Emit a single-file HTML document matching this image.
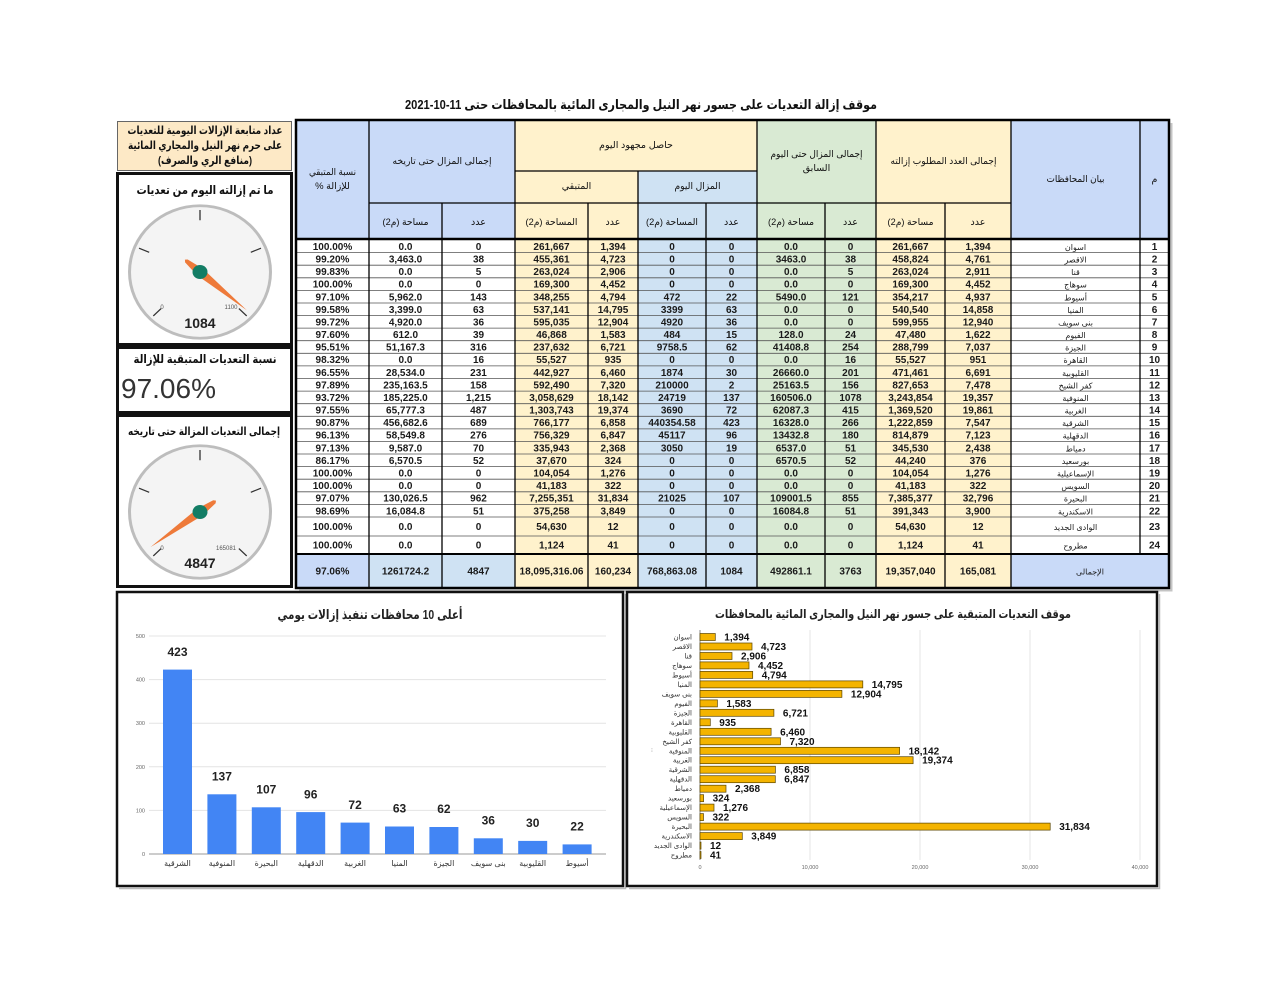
<!DOCTYPE html>
<html><head><meta charset="utf-8">
<style>
html,body{margin:0;padding:0;background:#fff;}
svg{display:block;font-family:"Liberation Sans","DejaVu Sans",sans-serif;}
.n{font-weight:normal;font-size:8px;}
</style></head><body>
<svg width="1280" height="989" viewBox="0 0 1280 989" xmlns="http://www.w3.org/2000/svg">
<rect width="1280" height="989" fill="#fff"/>
<!-- main title -->
<text x="641" y="109" text-anchor="middle" direction="rtl" font-weight="bold" font-size="13" fill="#111" textLength="472" lengthAdjust="spacingAndGlyphs">موقف إزالة التعديات على جسور نهر النيل والمجارى المائية بالمحافظات حتى &#x2066;2021-10-11&#x2069;</text>

<!-- TABLE backgrounds -->
<rect x="296" y="120" width="219" height="118" fill="#c9daf8"/>
<rect x="515" y="120" width="242" height="51" fill="#fff2cc"/>
<rect x="515" y="171" width="123" height="67" fill="#fff2cc"/>
<rect x="638" y="171" width="119" height="67" fill="#cfe2f3"/>
<rect x="757" y="120" width="119" height="118" fill="#d9ead3"/>
<rect x="876" y="120" width="135" height="118" fill="#fff2cc"/>
<rect x="1011" y="120" width="158" height="118" fill="#c9daf8"/>
<rect x="515" y="240" width="123" height="314" fill="#fff2cc"/>
<rect x="638" y="240" width="119" height="314" fill="#cfe2f3"/>
<rect x="757" y="240" width="119" height="314" fill="#d9ead3"/>
<rect x="876" y="240" width="135" height="314" fill="#fff2cc"/>
<rect x="296" y="554" width="73" height="34" fill="#c9daf8"/>
<rect x="369" y="554" width="146" height="34" fill="#cfe2f3"/>
<rect x="515" y="554" width="123" height="34" fill="#fff2cc"/>
<rect x="638" y="554" width="119" height="34" fill="#cfe2f3"/>
<rect x="757" y="554" width="119" height="34" fill="#d9ead3"/>
<rect x="876" y="554" width="135" height="34" fill="#fff2cc"/>
<rect x="1011" y="554" width="158" height="34" fill="#c9daf8"/>

<!-- row lines -->
<path fill="none" stroke="#555" stroke-width="0.8" d="M296 252.6H1169M296 265.2H1169M296 277.8H1169M296 290.4H1169M296 303H1169M296 315.5H1169M296 328.1H1169M296 340.7H1169M296 353.3H1169M296 365.9H1169M296 378.5H1169M296 391.1H1169M296 403.7H1169M296 416.3H1169M296 428.9H1169M296 441.4H1169M296 454H1169M296 466.6H1169M296 479.2H1169M296 491.8H1169M296 504.4H1169M296 517H1169M296 536H1169"/>
<!-- vertical lines -->
<path fill="none" stroke="#000" stroke-width="1.3" d="M369 120V588M442 203V588M515 120V588M588 203V588M638 171V588M706 203V588M757 120V588M825 203V588M876 120V588M945 203V588M1011 120V588M1140 120V554M515 171H757M369 203H1011"/>
<path fill="none" stroke="#000" stroke-width="2.6" d="M296 239H1169"/>
<path fill="none" stroke="#000" stroke-width="2" d="M296 554H1169"/>
<rect x="296" y="120" width="873" height="468" fill="none" stroke="#000" stroke-width="2.5"/>
<path fill="none" stroke="#c4c4c4" stroke-width="2" d="M1171.5 123V590.5H299"/>

<!-- header text -->
<g font-size="9.5" fill="#111" text-anchor="middle" direction="rtl">
<text x="332.5" y="175" textLength="47" lengthAdjust="spacingAndGlyphs">نسبة المتبقي</text>
<text x="332.5" y="189">للإزالة %</text>
<text x="442" y="164" textLength="99" lengthAdjust="spacingAndGlyphs">إجمالى المزال حتى تاريخه</text>
<text x="405.5" y="225" textLength="46" lengthAdjust="spacingAndGlyphs">مساحة (م2)</text>
<text x="478.5" y="225">عدد</text>
<text x="636" y="148" textLength="74" lengthAdjust="spacingAndGlyphs">حاصل مجهود اليوم</text>
<text x="576.5" y="189">المتبقي</text>
<text x="697.5" y="189" textLength="46" lengthAdjust="spacingAndGlyphs">المزال اليوم</text>
<text x="551.5" y="225" textLength="52" lengthAdjust="spacingAndGlyphs">المساحة (م2)</text>
<text x="613" y="225">عدد</text>
<text x="672" y="225" textLength="52" lengthAdjust="spacingAndGlyphs">المساحة (م2)</text>
<text x="731.5" y="225">عدد</text>
<text x="816.5" y="157" textLength="92" lengthAdjust="spacingAndGlyphs">إجمالى المزال حتى اليوم</text>
<text x="816.5" y="171">السابق</text>
<text x="791" y="225" textLength="46" lengthAdjust="spacingAndGlyphs">مساحة (م2)</text>
<text x="850.5" y="225">عدد</text>
<text x="943.5" y="164" textLength="106" lengthAdjust="spacingAndGlyphs">إجمالى العدد المطلوب إزالته</text>
<text x="910.5" y="225" textLength="46" lengthAdjust="spacingAndGlyphs">مساحة (م2)</text>
<text x="978" y="225">عدد</text>
<text x="1075.5" y="182" textLength="58" lengthAdjust="spacingAndGlyphs">بيان المحافظات</text>
<text x="1154.5" y="182">م</text>
</g>

<!-- data rows -->
<g font-size="10" font-weight="bold" fill="#1a1a1a" text-anchor="middle">
<g transform="translate(0,249.9)"><text x="332.5">100.00%</text><text x="405.5">0.0</text><text x="478.5">0</text><text x="551.5">261,667</text><text x="613">1,394</text><text x="672">0</text><text x="731.5">0</text><text x="791">0.0</text><text x="850.5">0</text><text x="910.5">261,667</text><text x="978">1,394</text><text x="1075.5" class="n">اسوان</text><text x="1154.5">1</text></g>
<g transform="translate(0,262.5)"><text x="332.5">99.20%</text><text x="405.5">3,463.0</text><text x="478.5">38</text><text x="551.5">455,361</text><text x="613">4,723</text><text x="672">0</text><text x="731.5">0</text><text x="791">3463.0</text><text x="850.5">38</text><text x="910.5">458,824</text><text x="978">4,761</text><text x="1075.5" class="n">الاقصر</text><text x="1154.5">2</text></g>
<g transform="translate(0,275.1)"><text x="332.5">99.83%</text><text x="405.5">0.0</text><text x="478.5">5</text><text x="551.5">263,024</text><text x="613">2,906</text><text x="672">0</text><text x="731.5">0</text><text x="791">0.0</text><text x="850.5">5</text><text x="910.5">263,024</text><text x="978">2,911</text><text x="1075.5" class="n">قنا</text><text x="1154.5">3</text></g>
<g transform="translate(0,287.7)"><text x="332.5">100.00%</text><text x="405.5">0.0</text><text x="478.5">0</text><text x="551.5">169,300</text><text x="613">4,452</text><text x="672">0</text><text x="731.5">0</text><text x="791">0.0</text><text x="850.5">0</text><text x="910.5">169,300</text><text x="978">4,452</text><text x="1075.5" class="n">سوهاج</text><text x="1154.5">4</text></g>
<g transform="translate(0,300.3)"><text x="332.5">97.10%</text><text x="405.5">5,962.0</text><text x="478.5">143</text><text x="551.5">348,255</text><text x="613">4,794</text><text x="672">472</text><text x="731.5">22</text><text x="791">5490.0</text><text x="850.5">121</text><text x="910.5">354,217</text><text x="978">4,937</text><text x="1075.5" class="n">أسيوط</text><text x="1154.5">5</text></g>
<g transform="translate(0,312.9)"><text x="332.5">99.58%</text><text x="405.5">3,399.0</text><text x="478.5">63</text><text x="551.5">537,141</text><text x="613">14,795</text><text x="672">3399</text><text x="731.5">63</text><text x="791">0.0</text><text x="850.5">0</text><text x="910.5">540,540</text><text x="978">14,858</text><text x="1075.5" class="n">المنيا</text><text x="1154.5">6</text></g>
<g transform="translate(0,325.4)"><text x="332.5">99.72%</text><text x="405.5">4,920.0</text><text x="478.5">36</text><text x="551.5">595,035</text><text x="613">12,904</text><text x="672">4920</text><text x="731.5">36</text><text x="791">0.0</text><text x="850.5">0</text><text x="910.5">599,955</text><text x="978">12,940</text><text x="1075.5" class="n">بنى سويف</text><text x="1154.5">7</text></g>
<g transform="translate(0,338)"><text x="332.5">97.60%</text><text x="405.5">612.0</text><text x="478.5">39</text><text x="551.5">46,868</text><text x="613">1,583</text><text x="672">484</text><text x="731.5">15</text><text x="791">128.0</text><text x="850.5">24</text><text x="910.5">47,480</text><text x="978">1,622</text><text x="1075.5" class="n">الفيوم</text><text x="1154.5">8</text></g>
<g transform="translate(0,350.6)"><text x="332.5">95.51%</text><text x="405.5">51,167.3</text><text x="478.5">316</text><text x="551.5">237,632</text><text x="613">6,721</text><text x="672">9758.5</text><text x="731.5">62</text><text x="791">41408.8</text><text x="850.5">254</text><text x="910.5">288,799</text><text x="978">7,037</text><text x="1075.5" class="n">الجيزة</text><text x="1154.5">9</text></g>
<g transform="translate(0,363.2)"><text x="332.5">98.32%</text><text x="405.5">0.0</text><text x="478.5">16</text><text x="551.5">55,527</text><text x="613">935</text><text x="672">0</text><text x="731.5">0</text><text x="791">0.0</text><text x="850.5">16</text><text x="910.5">55,527</text><text x="978">951</text><text x="1075.5" class="n">القاهرة</text><text x="1154.5">10</text></g>
<g transform="translate(0,375.8)"><text x="332.5">96.55%</text><text x="405.5">28,534.0</text><text x="478.5">231</text><text x="551.5">442,927</text><text x="613">6,460</text><text x="672">1874</text><text x="731.5">30</text><text x="791">26660.0</text><text x="850.5">201</text><text x="910.5">471,461</text><text x="978">6,691</text><text x="1075.5" class="n">القليوبية</text><text x="1154.5">11</text></g>
<g transform="translate(0,388.4)"><text x="332.5">97.89%</text><text x="405.5">235,163.5</text><text x="478.5">158</text><text x="551.5">592,490</text><text x="613">7,320</text><text x="672">210000</text><text x="731.5">2</text><text x="791">25163.5</text><text x="850.5">156</text><text x="910.5">827,653</text><text x="978">7,478</text><text x="1075.5" class="n">كفر الشيخ</text><text x="1154.5">12</text></g>
<g transform="translate(0,401)"><text x="332.5">93.72%</text><text x="405.5">185,225.0</text><text x="478.5">1,215</text><text x="551.5">3,058,629</text><text x="613">18,142</text><text x="672">24719</text><text x="731.5">137</text><text x="791">160506.0</text><text x="850.5">1078</text><text x="910.5">3,243,854</text><text x="978">19,357</text><text x="1075.5" class="n">المنوفية</text><text x="1154.5">13</text></g>
<g transform="translate(0,413.6)"><text x="332.5">97.55%</text><text x="405.5">65,777.3</text><text x="478.5">487</text><text x="551.5">1,303,743</text><text x="613">19,374</text><text x="672">3690</text><text x="731.5">72</text><text x="791">62087.3</text><text x="850.5">415</text><text x="910.5">1,369,520</text><text x="978">19,861</text><text x="1075.5" class="n">الغربية</text><text x="1154.5">14</text></g>
<g transform="translate(0,426.2)"><text x="332.5">90.87%</text><text x="405.5">456,682.6</text><text x="478.5">689</text><text x="551.5">766,177</text><text x="613">6,858</text><text x="672">440354.58</text><text x="731.5">423</text><text x="791">16328.0</text><text x="850.5">266</text><text x="910.5">1,222,859</text><text x="978">7,547</text><text x="1075.5" class="n">الشرقية</text><text x="1154.5">15</text></g>
<g transform="translate(0,438.7)"><text x="332.5">96.13%</text><text x="405.5">58,549.8</text><text x="478.5">276</text><text x="551.5">756,329</text><text x="613">6,847</text><text x="672">45117</text><text x="731.5">96</text><text x="791">13432.8</text><text x="850.5">180</text><text x="910.5">814,879</text><text x="978">7,123</text><text x="1075.5" class="n">الدقهلية</text><text x="1154.5">16</text></g>
<g transform="translate(0,451.3)"><text x="332.5">97.13%</text><text x="405.5">9,587.0</text><text x="478.5">70</text><text x="551.5">335,943</text><text x="613">2,368</text><text x="672">3050</text><text x="731.5">19</text><text x="791">6537.0</text><text x="850.5">51</text><text x="910.5">345,530</text><text x="978">2,438</text><text x="1075.5" class="n">دمياط</text><text x="1154.5">17</text></g>
<g transform="translate(0,463.9)"><text x="332.5">86.17%</text><text x="405.5">6,570.5</text><text x="478.5">52</text><text x="551.5">37,670</text><text x="613">324</text><text x="672">0</text><text x="731.5">0</text><text x="791">6570.5</text><text x="850.5">52</text><text x="910.5">44,240</text><text x="978">376</text><text x="1075.5" class="n">بورسعيد</text><text x="1154.5">18</text></g>
<g transform="translate(0,476.5)"><text x="332.5">100.00%</text><text x="405.5">0.0</text><text x="478.5">0</text><text x="551.5">104,054</text><text x="613">1,276</text><text x="672">0</text><text x="731.5">0</text><text x="791">0.0</text><text x="850.5">0</text><text x="910.5">104,054</text><text x="978">1,276</text><text x="1075.5" class="n">الإسماعيلية</text><text x="1154.5">19</text></g>
<g transform="translate(0,489.1)"><text x="332.5">100.00%</text><text x="405.5">0.0</text><text x="478.5">0</text><text x="551.5">41,183</text><text x="613">322</text><text x="672">0</text><text x="731.5">0</text><text x="791">0.0</text><text x="850.5">0</text><text x="910.5">41,183</text><text x="978">322</text><text x="1075.5" class="n">السويس</text><text x="1154.5">20</text></g>
<g transform="translate(0,501.7)"><text x="332.5">97.07%</text><text x="405.5">130,026.5</text><text x="478.5">962</text><text x="551.5">7,255,351</text><text x="613">31,834</text><text x="672">21025</text><text x="731.5">107</text><text x="791">109001.5</text><text x="850.5">855</text><text x="910.5">7,385,377</text><text x="978">32,796</text><text x="1075.5" class="n">البحيرة</text><text x="1154.5">21</text></g>
<g transform="translate(0,514.3)"><text x="332.5">98.69%</text><text x="405.5">16,084.8</text><text x="478.5">51</text><text x="551.5">375,258</text><text x="613">3,849</text><text x="672">0</text><text x="731.5">0</text><text x="791">16084.8</text><text x="850.5">51</text><text x="910.5">391,343</text><text x="978">3,900</text><text x="1075.5" class="n">الاسكندرية</text><text x="1154.5">22</text></g>
<g transform="translate(0,530.1)"><text x="332.5">100.00%</text><text x="405.5">0.0</text><text x="478.5">0</text><text x="551.5">54,630</text><text x="613">12</text><text x="672">0</text><text x="731.5">0</text><text x="791">0.0</text><text x="850.5">0</text><text x="910.5">54,630</text><text x="978">12</text><text x="1075.5" class="n">الوادى الجديد</text><text x="1154.5">23</text></g>
<g transform="translate(0,548.6)"><text x="332.5">100.00%</text><text x="405.5">0.0</text><text x="478.5">0</text><text x="551.5">1,124</text><text x="613">41</text><text x="672">0</text><text x="731.5">0</text><text x="791">0.0</text><text x="850.5">0</text><text x="910.5">1,124</text><text x="978">41</text><text x="1075.5" class="n">مطروح</text><text x="1154.5">24</text></g>
<g transform="translate(0,574.6)"><text x="332.5">97.06%</text><text x="405.5">1261724.2</text><text x="478.5">4847</text><text x="551.5">18,095,316.06</text><text x="613">160,234</text><text x="672">768,863.08</text><text x="731.5">1084</text><text x="791">492861.1</text><text x="850.5">3763</text><text x="910.5">19,357,040</text><text x="978">165,081</text><text x="1090" class="n" font-size="9">الإجمالى</text></g>
</g>

<!-- LEFT PANELS -->
<rect x="117.5" y="121.5" width="174" height="49" fill="#fde9c6" stroke="#666" stroke-width="1"/>
<g font-size="11" font-weight="bold" fill="#111" text-anchor="middle" direction="rtl">
<text x="205" y="134" textLength="155" lengthAdjust="spacingAndGlyphs">عداد متابعة الإزالات اليومية للتعديات</text>
<text x="205" y="149" textLength="154" lengthAdjust="spacingAndGlyphs">على حرم نهر النيل والمجاري المائية</text>
<text x="205" y="164" textLength="94" lengthAdjust="spacingAndGlyphs">(منافع الري والصرف)</text>
</g>

<rect x="117.5" y="173.5" width="174" height="171" fill="#fff" stroke="#111" stroke-width="3"/>
<rect x="117.5" y="347.5" width="174" height="65" fill="#fff" stroke="#111" stroke-width="3"/>
<rect x="117.5" y="415.5" width="174" height="171" fill="#fff" stroke="#111" stroke-width="3"/>

<g font-size="12" font-weight="bold" fill="#111" text-anchor="middle" direction="rtl">
<text x="205" y="194" textLength="137" lengthAdjust="spacingAndGlyphs">ما تم إزالته اليوم من تعديات</text>
<text x="205" y="363" textLength="143" lengthAdjust="spacingAndGlyphs">نسبة التعديات المتبقية للإزالة</text>
<text x="204" y="435" font-size="11" textLength="152" lengthAdjust="spacingAndGlyphs">إجمالى التعديات المزالة حتى تاريخه</text>
</g>
<text x="121" y="398" font-size="28" fill="#333">97.06%</text>

<!-- gauge 1 -->
<g transform="translate(200,272) scale(1,0.94)">
<circle r="72" fill="#bdbdbd"/>
<circle r="69" fill="#f4f4f4"/>
<path stroke="#333" stroke-width="1.3" fill="none" d="M0 -55V-66M-50.8 -21L-61 -25.3M50.8 -21L61 -25.3M-38.9 38.9L-46.7 46.7M38.9 38.9L46.7 46.7"/>
<polygon fill="#ee7a3a" points="46.8,40.7 -2.95,3.4 -14.9,-10.3 -15.1,-13.1 -12.3,-13.3 2.95,-3.4"/>
<circle r="7.5" fill="#137d65"/>
</g>
<text x="162" y="309" font-size="6" fill="#555" text-anchor="middle">0</text>
<text x="231" y="309" font-size="6" fill="#555" text-anchor="middle">1100</text>
<text x="200" y="328" font-size="14" font-weight="bold" fill="#222" text-anchor="middle">1084</text>

<!-- gauge 2 -->
<g transform="translate(200,512) scale(1,0.94)">
<circle r="72" fill="#bdbdbd"/>
<circle r="69" fill="#f4f4f4"/>
<path stroke="#333" stroke-width="1.3" fill="none" d="M0 -55V-66M-50.8 -21L-61 -25.3M50.8 -21L61 -25.3M-38.9 38.9L-46.7 46.7M38.9 38.9L46.7 46.7"/>
<polygon fill="#ee7a3a" points="-49.5,37.4 -2.7,-3.6 13.2,-12.5 16,-12.1 15.6,-9.3 2.7,3.6"/>
<circle r="7.5" fill="#137d65"/>
</g>
<text x="162" y="550" font-size="6" fill="#555" text-anchor="middle">0</text>
<text x="226" y="550" font-size="6" fill="#555" text-anchor="middle">165081</text>
<text x="200" y="568" font-size="14" font-weight="bold" fill="#222" text-anchor="middle">4847</text>

<!-- BOTTOM LEFT CHART -->
<rect x="117" y="592" width="506" height="294" fill="#fff" stroke="#111" stroke-width="2.5"/>
<path fill="none" stroke="#bbb" stroke-width="1.5" d="M625.5 594V888.5H119"/>
<text x="370" y="619" text-anchor="middle" direction="rtl" font-size="13" font-weight="bold" fill="#222" textLength="185" lengthAdjust="spacingAndGlyphs">أعلى 10 محافظات تنفيذ إزالات يومي</text>
<path fill="none" stroke="#e4e4e4" stroke-width="1" d="M149 636H606M149 679.6H606M149 723.2H606M149 766.8H606M149 810.4H606"/>
<path fill="none" stroke="#999" stroke-width="1" d="M149 854H606"/>
<g font-size="5.5" fill="#666" text-anchor="end">
<text x="145" y="638">500</text><text x="145" y="681.6">400</text><text x="145" y="725.2">300</text><text x="145" y="768.8">200</text><text x="145" y="812.4">100</text><text x="145" y="856">0</text>
</g>
<g fill="#4285f4">
<rect x="163" y="669.6" width="29" height="184.4"/>
<rect x="207.4" y="794.3" width="29" height="59.7"/>
<rect x="251.8" y="807.3" width="29" height="46.7"/>
<rect x="296.2" y="812.1" width="29" height="41.9"/>
<rect x="340.6" y="822.6" width="29" height="31.4"/>
<rect x="385" y="826.5" width="29" height="27.5"/>
<rect x="429.4" y="827" width="29" height="27"/>
<rect x="473.8" y="838.3" width="29" height="15.7"/>
<rect x="518.2" y="840.9" width="29" height="13.1"/>
<rect x="562.6" y="844.4" width="29" height="9.6"/>
</g>
<g font-size="12" font-weight="bold" fill="#222" text-anchor="middle">
<text x="177.5" y="656">423</text><text x="221.9" y="780.5">137</text><text x="266.3" y="793.5">107</text><text x="310.7" y="798.3">96</text><text x="355.1" y="808.8">72</text><text x="399.5" y="812.7">63</text><text x="443.9" y="813.2">62</text><text x="488.3" y="824.5">36</text><text x="532.7" y="827.1">30</text><text x="577.1" y="830.6">22</text>
</g>
<g font-size="8" fill="#333" text-anchor="middle">
<text x="177.5" y="866">الشرقية</text><text x="221.9" y="866">المنوفية</text><text x="266.3" y="866">البحيرة</text><text x="310.7" y="866">الدقهلية</text><text x="355.1" y="866">الغربية</text><text x="399.5" y="866">المنيا</text><text x="443.9" y="866">الجيزة</text><text x="488.3" y="866">بنى سويف</text><text x="532.7" y="866">القليوبية</text><text x="577.1" y="866">أسيوط</text>
</g>

<!-- BOTTOM RIGHT CHART -->
<rect x="627" y="592" width="530" height="294" fill="#fff" stroke="#111" stroke-width="2.5"/>
<path fill="none" stroke="#bbb" stroke-width="1.5" d="M1159.5 594V888.5H629"/>
<text x="893" y="618" text-anchor="middle" direction="rtl" font-size="12" font-weight="bold" fill="#222" textLength="356" lengthAdjust="spacingAndGlyphs">موقف التعديات المتبقية على جسور نهر النيل والمجارى المائية بالمحافظات</text>
<path fill="none" stroke="#e4e4e4" stroke-width="1" d="M810 630V860M920 630V860M1030 630V860M1140 630V860"/>
<path fill="none" stroke="#888" stroke-width="1" d="M700 630V860"/>
<g font-size="5.5" fill="#666" text-anchor="middle">
<text x="700" y="869">0</text><text x="810" y="869">10,000</text><text x="920" y="869">20,000</text><text x="1030" y="869">30,000</text><text x="1140" y="869">40,000</text>
</g>
<text x="651" y="752" font-size="6" fill="#999">⁝</text>
<g fill="#f4b400" stroke="#5a4500" stroke-width="0.7">
<rect x="700" y="633.5" width="15.3" height="7"/>
<rect x="700" y="643" width="52" height="7"/>
<rect x="700" y="652.5" width="32" height="7"/>
<rect x="700" y="661.9" width="49" height="7"/>
<rect x="700" y="671.4" width="52.7" height="7"/>
<rect x="700" y="680.9" width="162.8" height="7"/>
<rect x="700" y="690.4" width="141.9" height="7"/>
<rect x="700" y="699.9" width="17.4" height="7"/>
<rect x="700" y="709.3" width="73.9" height="7"/>
<rect x="700" y="718.8" width="10.3" height="7"/>
<rect x="700" y="728.3" width="71.1" height="7"/>
<rect x="700" y="737.8" width="80.5" height="7"/>
<rect x="700" y="747.3" width="199.6" height="7"/>
<rect x="700" y="756.7" width="213.1" height="7"/>
<rect x="700" y="766.2" width="75.4" height="7"/>
<rect x="700" y="775.7" width="75.3" height="7"/>
<rect x="700" y="785.2" width="26" height="7"/>
<rect x="700" y="794.7" width="3.6" height="7"/>
<rect x="700" y="804.1" width="14" height="7"/>
<rect x="700" y="813.6" width="3.5" height="7"/>
<rect x="700" y="823.1" width="350.2" height="7"/>
<rect x="700" y="832.6" width="42.3" height="7"/>
<rect x="700" y="842.1" width="1" height="7"/>
<rect x="700" y="851.5" width="1" height="7"/>
</g>
<g font-size="10" font-weight="bold" fill="#111">
<text x="724.3" y="640.5">1,394</text>
<text x="761" y="650">4,723</text>
<text x="741" y="659.5">2,906</text>
<text x="758" y="668.9">4,452</text>
<text x="761.7" y="678.4">4,794</text>
<text x="871.8" y="687.9">14,795</text>
<text x="850.9" y="697.4">12,904</text>
<text x="726.4" y="706.9">1,583</text>
<text x="782.9" y="716.3">6,721</text>
<text x="719.3" y="725.8">935</text>
<text x="780.1" y="735.3">6,460</text>
<text x="789.5" y="744.8">7,320</text>
<text x="908.6" y="754.3">18,142</text>
<text x="922.1" y="763.7">19,374</text>
<text x="784.4" y="773.2">6,858</text>
<text x="784.3" y="782.7">6,847</text>
<text x="735" y="792.2">2,368</text>
<text x="712.6" y="801.7">324</text>
<text x="723" y="811.1">1,276</text>
<text x="712.5" y="820.6">322</text>
<text x="1059.2" y="830.1">31,834</text>
<text x="751.3" y="839.6">3,849</text>
<text x="710" y="849.1">12</text>
<text x="710" y="858.5">41</text>
</g>
<g font-size="7" fill="#333" text-anchor="end">
<text x="692" y="639.5">اسوان</text>
<text x="692" y="649">الاقصر</text>
<text x="692" y="658.5">قنا</text>
<text x="692" y="667.9">سوهاج</text>
<text x="692" y="677.4">أسيوط</text>
<text x="692" y="686.9">المنيا</text>
<text x="692" y="696.4">بنى سويف</text>
<text x="692" y="705.9">الفيوم</text>
<text x="692" y="715.3">الجيزة</text>
<text x="692" y="724.8">القاهرة</text>
<text x="692" y="734.3">القليوبية</text>
<text x="692" y="743.8">كفر الشيخ</text>
<text x="692" y="753.3">المنوفية</text>
<text x="692" y="762.7">الغربية</text>
<text x="692" y="772.2">الشرقية</text>
<text x="692" y="781.7">الدقهلية</text>
<text x="692" y="791.2">دمياط</text>
<text x="692" y="800.7">بورسعيد</text>
<text x="692" y="810.1">الإسماعيلية</text>
<text x="692" y="819.6">السويس</text>
<text x="692" y="829.1">البحيرة</text>
<text x="692" y="838.6">الاسكندرية</text>
<text x="692" y="848.1">الوادى الجديد</text>
<text x="692" y="857.5">مطروح</text>
</g>
</svg>
</body></html>
